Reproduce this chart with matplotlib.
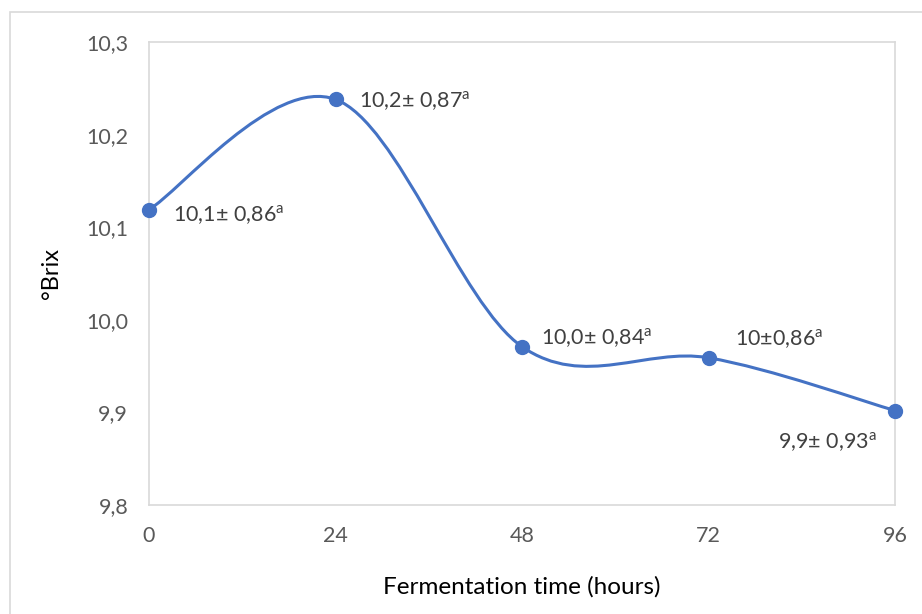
import matplotlib
matplotlib.use("Agg")
import matplotlib.pyplot as plt
from matplotlib.path import Path
from matplotlib.patches import PathPatch, Rectangle
import numpy as np

plt.rcParams['font.family'] = ['Lato', 'DejaVu Sans']
plt.rcParams['mathtext.fontset'] = 'custom'
plt.rcParams['mathtext.rm'] = 'Lato'

# data
hours = [0, 24, 48, 72, 96]
brix = [10.119, 10.238, 9.971, 9.959, 9.902]
labels = ['10,1± 0,86', '10,2± 0,87', '10,0± 0,84', '10±0,86', '9,9± 0,93']
yticks = [9.8, 9.9, 10.0, 10.1, 10.2, 10.3]
ytick_labels = ['9,8', '9,9', '10,0', '10,1', '10,2', '10,3']

blue = '#4472C4'
grey = '#595959'

fig = plt.figure(figsize=(9.22, 6.14), dpi=100)
ax = fig.add_axes([149/922, 1-505/614, 746/922, 463/614])

# Excel-style smoothed line (cubic Bezier through the points)
pts = np.column_stack([hours, brix])
verts = [pts[0]]
codes = [Path.MOVETO]
n = len(pts)
for i in range(n - 1):
    p_prev = pts[max(i - 1, 0)]
    p0, p1 = pts[i], pts[i + 1]
    p_next = pts[min(i + 2, n - 1)]
    c1 = p0 + (p1 - p_prev) / 6
    c2 = p1 - (p_next - p0) / 6
    verts += [c1, c2, p1]
    codes += [Path.CURVE4] * 3
ax.add_patch(PathPatch(Path(verts, codes), facecolor='none', edgecolor=blue,
                       lw=2.2, capstyle='round', zorder=2))
ax.plot(hours, brix, 'o', color=blue, ms=10, zorder=3, clip_on=False)

offsets = [(17, -4), (17, -1), (14, 6), (19, 13), (-13, -23)]
aligns = ['left', 'left', 'left', 'left', 'right']
for x, y, lab, off, ha in zip(hours, brix, labels, offsets, aligns):
    ax.annotate(lab + r'$^{\mathrm{a}}$', (x, y), xytext=off, textcoords='offset points',
                ha=ha, va='center', fontsize=15.5, color='#404040')

ax.set_xlim(0, 96)
ax.set_ylim(9.8, 10.3)
ax.set_xticks(hours)
ax.set_yticks(yticks)
ax.set_yticklabels(ytick_labels)
ax.tick_params(length=0, labelsize=15.5, labelcolor=grey)
ax.tick_params(axis='y', pad=15)
ax.tick_params(axis='x', pad=15)
for s in ax.spines.values():
    s.set_color('#D9D9D9')
    s.set_linewidth(1.2)

ax.set_xlabel('Fermentation time (hours)', fontsize=17.5, color='black')
ax.set_ylabel('°Brix', fontsize=17, color='black')
ax.xaxis.set_label_coords(0.5, -0.153)
ax.yaxis.set_label_coords(-0.1166, 0.5)

# outer chart border
fig.patches.append(Rectangle((10/922, -0.01), 1.02, 1 - 12/614 + 0.01, transform=fig.transFigure,
                             fill=False, edgecolor='#D9D9D9', lw=1.2))

fig.savefig('out.png', dpi=100)
